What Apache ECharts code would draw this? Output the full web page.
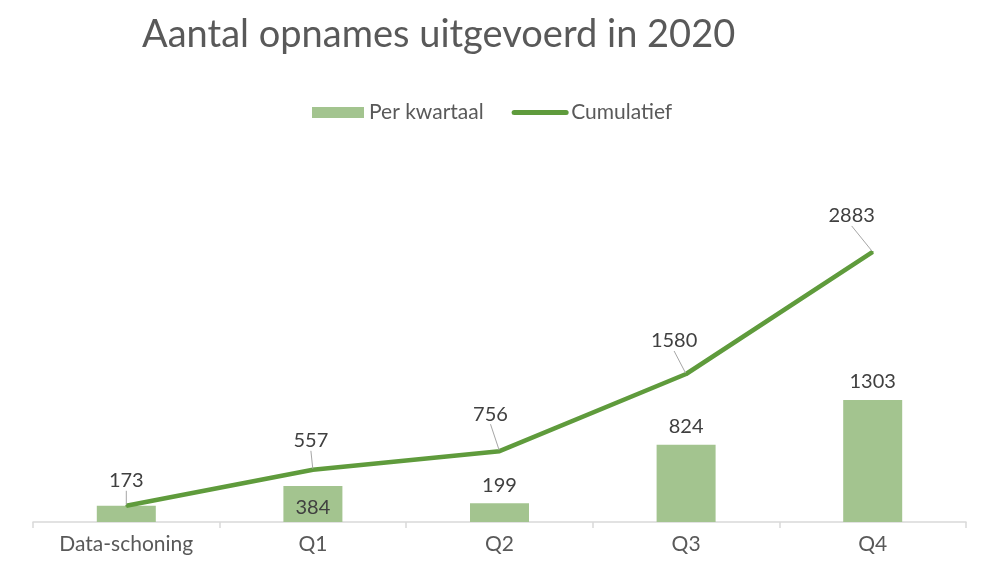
<!DOCTYPE html>
<html><head><meta charset="utf-8">
<script src="https://cdn.jsdelivr.net/npm/echarts@6/dist/echarts.min.js"></script>
<style>html,body{margin:0;padding:0;background:#fff}#c{width:995px;height:584px}</style>
</head><body><div id="c"></div>
<script>
const titleText = 'Aantal opnames uitgevoerd in 2020';
const categories = ['Data-schoning', 'Q1', 'Q2', 'Q3', 'Q4'];
const perKwartaal = [173, 384, 199, 824, 1303];
const cumulatief = [173, 557, 756, 1580, 2883];
const seriesNames = ['Per kwartaal', 'Cumulatief'];

const FONT = 'Lato, "Open Sans", sans-serif';
// label offsets (style only)
const lineLabelShift = [[0, 0], [-2, -12], [-9, -20], [-12, -16], [-21, -19]];

const chart = echarts.init(document.getElementById('c'), null, {renderer: 'canvas'});
chart.setOption({
  animation: false,
  backgroundColor: '#fff',
  title: {
    text: titleText, left: 137, top: 11,
    textStyle: {fontFamily: FONT, fontSize: 38, fontWeight: 'normal', color: '#595959'}
  },
  legend: {
    left: 307, top: 97,
    itemWidth: 52, itemHeight: 11, itemGap: 28,
    data: [
      {name: seriesNames[0], icon: 'rect'},
      {name: seriesNames[1], itemStyle: {opacity: 0}, lineStyle: {width: 5, cap: 'round', color: '#5f9b3c'}}
    ],
    textStyle: {fontFamily: FONT, fontSize: 21, color: '#595959'}
  },
  grid: {left: 33, right: 29, top: 241, bottom: 62, containLabel: false},
  xAxis: {
    type: 'category', data: categories,
    axisLine: {lineStyle: {color: '#d9d9d9', width: 1.5}},
    axisTick: {show: true, length: 6, lineStyle: {color: '#d9d9d9', width: 1.5}},
    axisLabel: {fontFamily: FONT, fontSize: 21, color: '#595959', margin: 12}
  },
  yAxis: {type: 'value', min: 0, max: 3000, show: false, splitLine: {show: false}},
  series: [
    {
      name: seriesNames[0], type: 'bar', data: perKwartaal, barWidth: 59,
      itemStyle: {color: '#a3c48f'},
      label: {
        show: true, position: 'top', distance: 8,
        fontFamily: FONT, fontSize: 20, color: '#404040',
        formatter: p => p.dataIndex === 0 ? '' : String(p.value)
      },
      labelLayout: p => p.dataIndex === 1 ? {dy: 40} : {}
    },
    {
      name: seriesNames[1], type: 'line',
      data: cumulatief.map((v, i) => i === 0 ? {value: v, label: {distance: 14}} : v),
      symbol: 'circle', symbolSize: 2, showSymbol: true,
      lineStyle: {color: '#5f9b3c', width: 4.5},
      itemStyle: {color: '#5f9b3c'},
      label: {show: true, position: 'top', distance: 6, fontFamily: FONT, fontSize: 20, color: '#404040'},
      labelLine: {show: true, lineStyle: {color: '#a6a6a6', width: 1}},
      labelLayout: p => ({dx: lineLabelShift[p.dataIndex][0], dy: lineLabelShift[p.dataIndex][1]}),
      z: 5
    }
  ]
});
</script></body></html>
